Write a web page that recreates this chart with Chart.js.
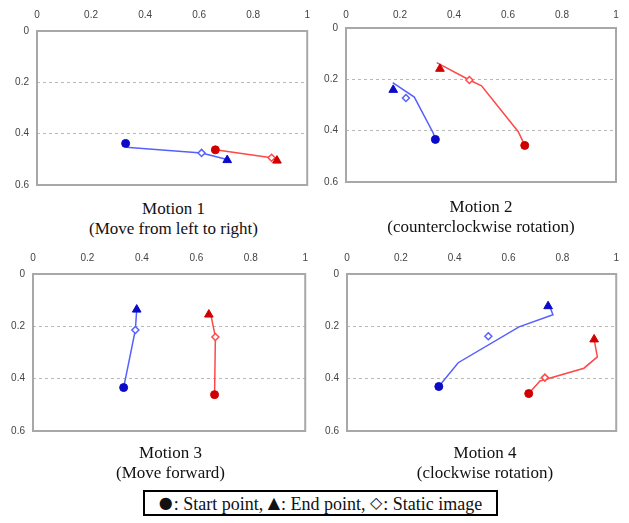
<!DOCTYPE html>
<html>
<head>
<meta charset="utf-8">
<script src="https://cdn.jsdelivr.net/npm/chart.js@4.4.1/dist/chart.umd.min.js"></script>
<style>
body { margin: 0; background: #fff; }
#page { position: relative; width: 629px; height: 523px; overflow: hidden; font-family: "Liberation Serif", "Times New Roman", serif; color: #111; }
#page canvas { position: absolute; }
.caption { position: absolute; width: 280px; text-align: center; font-size: 17px; line-height: 20px; }
#legend { position: absolute; left: 143px; top: 490px; width: 351px; height: 22px; border: 2px solid #000; font-size: 18px; line-height: 24px; text-align: center; white-space: nowrap; }
#legend .sym { font-family: "DejaVu Sans", sans-serif; font-size: 16px; line-height: 10px; position: relative; top: -2px; margin-right: 1px; }
</style>
</head>
<body>
<div id="page">
  <canvas id="m1"></canvas>
  <canvas id="m2"></canvas>
  <canvas id="m3"></canvas>
  <canvas id="m4"></canvas>
  <div class="caption" id="c1">Motion 1<br>(Move from left to right)</div>
  <div class="caption" id="c2">Motion 2<br>(counterclockwise rotation)</div>
  <div class="caption" id="c3">Motion 3<br>(Move forward)</div>
  <div class="caption" id="c4">Motion 4<br>(clockwise rotation)</div>
  <div id="legend"><span class="sym">&#9679;</span>: Start point, <span class="sym">&#9650;</span>: End point, <span class="sym">&#9671;</span>: Static image</div>
</div>
<script>
// axis ticks
const xTicks = [0, 0.2, 0.4, 0.6, 0.8, 1];
const yTicks = [0, 0.2, 0.4, 0.6];

// trajectories [x, y]; marks = start, end, static image
const motion1Blue = [[0.33, 0.453], [0.609, 0.475], [0.70, 0.50]];
const motion1BlueMarks = [[0.328, 0.438], [0.704, 0.503], [0.609, 0.475]];
const motion1Red = [[0.66, 0.463], [0.868, 0.494], [0.888, 0.505]];
const motion1RedMarks = [[0.66, 0.463], [0.888, 0.505], [0.868, 0.494]];

const motion2Blue = [[0.331, 0.434], [0.323, 0.409], [0.253, 0.269], [0.173, 0.2125]];
const motion2BlueMarks = [[0.331, 0.434], [0.175, 0.241], [0.222, 0.2725]];
const motion2Red = [[0.662, 0.4575], [0.638, 0.404], [0.502, 0.225], [0.457, 0.2025], [0.336, 0.135]];
const motion2RedMarks = [[0.662, 0.4575], [0.348, 0.159], [0.457, 0.2025]];

const motion3Blue = [[0.333, 0.434], [0.376, 0.214], [0.381, 0.136]];
const motion3BlueMarks = [[0.333, 0.434], [0.381, 0.136], [0.376, 0.214]];
const motion3Red = [[0.667, 0.461], [0.67, 0.241], [0.655, 0.164], [0.646, 0.155]];
const motion3RedMarks = [[0.667, 0.461], [0.646, 0.155], [0.67, 0.241]];

const motion4Blue = [[0.341, 0.43], [0.413, 0.339], [0.639, 0.202], [0.765, 0.156], [0.756, 0.132], [0.747, 0.123]];
const motion4BlueMarks = [[0.341, 0.43], [0.747, 0.123], [0.525, 0.238]];
const motion4Red = [[0.675, 0.457], [0.717, 0.409], [0.88, 0.36], [0.93, 0.317], [0.918, 0.25]];
const motion4RedMarks = [[0.675, 0.457], [0.918, 0.25], [0.735, 0.396]];

// panel layout: canvas position, axis sizes, plot size
const panels = [
    { id: "m1", cap: "c1", left: 0, top: 0, yW: 37, xH: 31, w: 273, h: 160, padR: 10, capTop: 199,
      blue: motion1Blue, blueMarks: motion1BlueMarks, red: motion1Red, redMarks: motion1RedMarks },
    { id: "m2", cap: "c2", left: 309, top: 0, yW: 37, xH: 28, w: 270, h: 160, padR: 10, capTop: 197,
      blue: motion2Blue, blueMarks: motion2BlueMarks, red: motion2Red, redMarks: motion2RedMarks },
    { id: "m3", cap: "c3", left: 0, top: 243, yW: 33, xH: 31, w: 275, h: 163, padR: 10, capTop: 443,
      blue: motion3Blue, blueMarks: motion3BlueMarks, red: motion3Red, redMarks: motion3RedMarks },
    { id: "m4", cap: "c4", left: 310, top: 243, yW: 37, xH: 31, w: 276, h: 163, padR: 6, capTop: 443,
      blue: motion4Blue, blueMarks: motion4BlueMarks, red: motion4Red, redMarks: motion4RedMarks }
];

const BLUE_LINE = "#5560ff";
const BLUE_MARK = "#0a0ac8";
const RED_LINE = "#ff4848";
const RED_MARK = "#d00000";
const PAD_B = 8;

const toXY = arr => arr.map(p => ({ x: p[0], y: p[1] }));
const fmt = v => String(Number(v.toFixed(1)));

// grey box round the plot area
const framePlugin = {
    id: "frame",
    beforeDatasetsDraw(chart) {
        const a = chart.chartArea;
        const ctx = chart.ctx;
        ctx.save();
        ctx.strokeStyle = "#a8a8a8";
        ctx.lineWidth = 2;
        ctx.strokeRect(a.left, a.top, a.right - a.left, a.bottom - a.top);
        ctx.restore();
    }
};

function markSets(marks, dark, lineCol) {
    return [
        { data: toXY([marks[0]]), pointStyle: "circle", pointRadius: 4, backgroundColor: dark, borderColor: dark, borderWidth: 1 },
        { data: toXY([marks[1]]), pointStyle: "triangle", pointRadius: 5, backgroundColor: dark, borderColor: dark, borderWidth: 1 },
        { data: toXY([marks[2]]), pointStyle: "rectRot", pointRadius: 3.5, backgroundColor: "#fff", borderColor: lineCol, borderWidth: 1.5 }
    ];
}

panels.forEach(p => {
    const canvas = document.getElementById(p.id);
    const cw = p.yW + p.w + p.padR;
    const ch = p.xH + p.h + PAD_B;
    canvas.width = cw;
    canvas.height = ch;
    canvas.style.left = p.left + "px";
    canvas.style.top = p.top + "px";
    canvas.style.width = cw + "px";
    canvas.style.height = ch + "px";

    const cap = document.getElementById(p.cap);
    cap.style.left = (p.left + p.yW + p.w / 2 - 140) + "px";
    cap.style.top = p.capTop + "px";

    const datasets = [
        ...markSets(p.blueMarks, BLUE_MARK, BLUE_LINE),
        ...markSets(p.redMarks, RED_MARK, RED_LINE),
        { data: toXY(p.blue), showLine: true, pointRadius: 0, borderColor: BLUE_LINE, borderWidth: 1.5, tension: 0 },
        { data: toXY(p.red), showLine: true, pointRadius: 0, borderColor: RED_LINE, borderWidth: 1.5, tension: 0 }
    ];

    new Chart(canvas, {
        type: "scatter",
        data: { datasets: datasets },
        options: {
            responsive: false,
            animation: false,
            layout: { padding: { left: 0, top: 0, right: p.padR, bottom: PAD_B } },
            plugins: { legend: { display: false }, tooltip: { enabled: false } },
            scales: {
                x: {
                    type: "linear",
                    position: "top",
                    min: 0,
                    max: 1,
                    afterBuildTicks: s => { s.ticks = xTicks.map(v => ({ value: v })); },
                    afterFit: s => { s.height = p.xH; },
                    grid: { display: false, drawTicks: false },
                    border: { display: false },
                    ticks: { padding: p.xH - 21, color: "#444", font: { family: "Liberation Sans", size: 10 }, maxRotation: 0, callback: fmt }
                },
                y: {
                    type: "linear",
                    reverse: true,
                    min: 0,
                    max: 0.6,
                    afterBuildTicks: s => { s.ticks = yTicks.map(v => ({ value: v })); },
                    afterFit: s => { s.width = p.yW; },
                    grid: {
                        drawTicks: false,
                        lineWidth: 1,
                        color: c => (c.tick.value > 0.01 && c.tick.value < 0.59) ? "#b8b8b8" : "rgba(0,0,0,0)"
                    },
                    border: { display: false, dash: [3, 3] },
                    ticks: { padding: 8, color: "#444", font: { family: "Liberation Sans", size: 10 }, callback: fmt }
                }
            }
        },
        plugins: [framePlugin]
    });
});
</script>
</body>
</html>
